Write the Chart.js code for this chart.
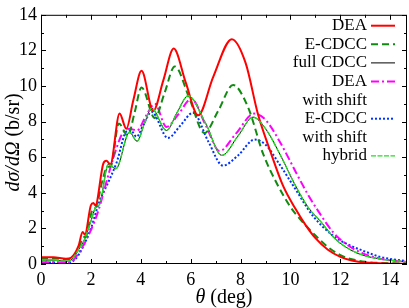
<!DOCTYPE html>
<html>
<head>
<meta charset="utf-8">
<script src="https://cdn.jsdelivr.net/npm/chart.js@4.4.0/dist/chart.umd.min.js"></script>
<style>
  html, body { margin: 0; padding: 0; background: #fff; }
</style>
</head>
<body>
<canvas id="xsec" width="409" height="308"></canvas>
<script>
// angles (deg) and cross sections (b/sr)
const deaTheta = [0, 0.5, 1.0, 1.2, 1.5, 1.67, 1.76, 2.0, 2.1, 2.18, 2.5, 2.62, 2.78, 3.15, 3.42, 3.7, 4.03, 4.5, 4.9, 5.32, 5.8, 6.3, 6.9, 7.65, 8.2, 8.7, 9.2, 9.7, 10.2, 10.6, 11.0, 11.5, 12.0, 12.5, 13.0, 14.0, 14.67];
const deaValue = [0.38, 0.38, 0.3, 0.35, 1.0, 1.8, 1.65, 3.3, 3.42, 3.3, 5.65, 5.8, 5.6, 8.45, 7.6, 9.2, 10.85, 8.6, 10.3, 12.1, 10.2, 8.35, 10.5, 12.63, 11.3, 8.4, 6.3, 4.4, 3.1, 2.2, 1.45, 0.8, 0.4, 0.18, 0.08, 0.02, 0.01];

const ecdccTheta = [0, 0.5, 1.0, 1.2, 1.5, 1.7, 1.8, 2.05, 2.2, 2.5, 2.65, 2.8, 3.12, 3.48, 3.75, 4.03, 4.56, 4.95, 5.36, 5.95, 6.55, 7.1, 7.7, 8.3, 8.9, 9.5, 10.0, 10.4, 11.0, 11.5, 12.0, 12.5, 13.0, 14.0, 14.67];
const ecdccValue = [0.32, 0.32, 0.25, 0.3, 0.85, 1.5, 1.55, 3.0, 3.2, 4.9, 5.45, 5.5, 7.9, 7.2, 8.5, 9.92, 8.2, 9.6, 11.1, 9.3, 7.36, 8.6, 10.05, 8.8, 6.2, 4.4, 3.2, 2.5, 1.6, 0.95, 0.5, 0.25, 0.12, 0.04, 0.03];

const cdccTheta = [0, 0.5, 1.0, 1.2, 1.5, 1.75, 2.0, 2.2, 2.35, 2.7, 3.0, 3.55, 3.85, 4.15, 4.43, 5.03, 5.45, 5.9, 6.6, 7.25, 7.9, 8.5, 9.0, 9.6, 10.2, 10.7, 11.2, 11.8, 12.4, 12.9, 13.6, 14.67];
const cdccValue = [0.22, 0.22, 0.15, 0.22, 0.8, 1.4, 2.4, 3.2, 3.35, 5.6, 5.35, 7.4, 6.9, 7.9, 8.75, 7.5, 8.5, 9.45, 7.9, 6.1, 7.2, 8.25, 7.6, 6.1, 4.4, 3.2, 2.4, 1.4, 0.8, 0.5, 0.28, 0.12];

const deaShiftTheta = [0, 0.5, 1.0, 1.2, 1.5, 2.0, 2.3, 2.76, 3.0, 3.25, 3.55, 3.85, 4.2, 4.56, 5.03, 5.5, 6.03, 6.6, 7.16, 7.8, 8.55, 9.0, 9.6, 10.2, 10.7, 11.1, 11.7, 12.3, 12.9, 13.6, 14.67];
const deaShiftValue = [0.1, 0.1, 0.08, 0.12, 0.6, 1.9, 3.0, 5.3, 6.4, 7.3, 7.6, 7.5, 8.3, 9.0, 7.7, 8.4, 9.28, 7.8, 6.35, 7.3, 8.45, 8.1, 6.8, 5.2, 3.9, 3.0, 1.8, 1.05, 0.6, 0.3, 0.12];

const ecdccShiftTheta = [0, 0.5, 1.0, 1.2, 1.5, 2.0, 2.36, 2.6, 3.03, 3.43, 3.6, 3.83, 4.13, 4.43, 5.09, 5.6, 6.09, 6.7, 7.29, 7.9, 8.56, 9.0, 9.56, 10.2, 10.9, 11.7, 12.3, 12.9, 13.6, 14.67];
const ecdccShiftValue = [0.08, 0.08, 0.06, 0.1, 0.5, 2.0, 3.6, 4.3, 5.7, 7.45, 7.5, 7.15, 7.9, 8.55, 7.08, 7.8, 8.5, 6.9, 5.53, 6.1, 6.99, 6.7, 5.6, 4.2, 2.7, 1.6, 1.1, 0.75, 0.4, 0.15];

// hybrid sits on top of full CDCC in the figure
const hybridTheta = cdccTheta;
const hybridValue = cdccValue;

const xTicks = [0, 2, 4, 6, 8, 10, 12, 14];
const yTicks = [0, 2, 4, 6, 8, 10, 12, 14];
const legendLines = [['DEA'], ['E-CDCC'], ['full CDCC'], ['DEA', 'with shift'], ['E-CDCC', 'with shift'], ['hybrid']];

const serif = '"Liberation Serif", "DejaVu Serif", serif';

function pts(t, v) {
  return t.map((a, i) => ({ x: a, y: v[i] }));
}

// inward ticks on all four sides, frame, legend and axis titles
const decor = {
  id: 'decor',
  afterDatasetsDraw(chart) {
    const ctx = chart.ctx;
    const a = chart.chartArea;
    const sx = chart.scales.x, sy = chart.scales.y;
    ctx.save();
    ctx.strokeStyle = '#000';
    ctx.lineWidth = 1;
    ctx.setLineDash([]);
    ctx.strokeRect(a.left + 0.5, a.top + 0.5, a.right - a.left - 1, a.bottom - a.top - 1);
    ctx.beginPath();
    for (let i = 0; i <= 14; i++) {
      const len = i % 2 === 0 ? 5 : 3;
      const px = Math.round(sx.getPixelForValue(i)) + 0.5;
      ctx.moveTo(px, a.bottom); ctx.lineTo(px, a.bottom - len);
      ctx.moveTo(px, a.top); ctx.lineTo(px, a.top + len);
      const py = Math.round(sy.getPixelForValue(i)) + 0.5;
      ctx.moveTo(a.left, py); ctx.lineTo(a.left + len, py);
      ctx.moveTo(a.right, py); ctx.lineTo(a.right - len, py);
    }
    ctx.stroke();

    // legend: text right aligned, line sample to its right
    ctx.font = '17px ' + serif;
    ctx.textAlign = 'right';
    ctx.textBaseline = 'middle';
    ctx.fillStyle = '#000';
    let row = 0;
    legendLines.forEach((lines, i) => {
      const ds = chart.data.datasets[i];
      const y = 25.7 + row * 18.6;
      ctx.strokeStyle = ds.borderColor;
      ctx.lineWidth = ds.borderWidth;
      ctx.setLineDash(ds.borderDash || []);
      ctx.beginPath();
      ctx.moveTo(371, y); ctx.lineTo(395, y);
      ctx.stroke();
      lines.forEach((txt, k) => {
        ctx.fillText(txt, 367, y + k * 18.6);
      });
      row += lines.length;
    });
    ctx.setLineDash([]);

    // x title
    ctx.textAlign = 'left';
    ctx.textBaseline = 'alphabetic';
    const xi = 'italic 20px ' + serif, xn = '20px ' + serif;
    ctx.font = xi; const w1 = ctx.measureText('θ').width;
    ctx.font = xn; const w2 = ctx.measureText(' (deg)').width;
    let x0 = (a.left + a.right) / 2 - (w1 + w2) / 2;
    ctx.font = xi; ctx.fillText('θ', x0, 303);
    ctx.font = xn; ctx.fillText(' (deg)', x0 + w1, 303);

    // y title
    ctx.translate(19, (a.top + a.bottom) / 2 + 3);
    ctx.rotate(-Math.PI / 2);
    const yi = 'italic 20px ' + serif, yn = '20px ' + serif;
    ctx.font = yi; const v1 = ctx.measureText('dσ/dΩ').width;
    ctx.font = yn; const v2 = ctx.measureText(' (b/sr)').width;
    x0 = -(v1 + v2) / 2;
    ctx.font = yi; ctx.fillText('dσ/dΩ', x0, 0);
    ctx.font = yn; ctx.fillText(' (b/sr)', x0 + v1, 0);
    ctx.restore();
  }
};

new Chart(document.getElementById('xsec'), {
  type: 'line',
  data: {
    datasets: [{
      label: 'DEA',
      data: pts(deaTheta, deaValue),
      borderColor: '#ff0000',
      borderWidth: 2,
      order: 2
    }, {
      label: 'E-CDCC',
      data: pts(ecdccTheta, ecdccValue),
      borderColor: '#108a10',
      borderWidth: 2,
      borderDash: [7, 4],
      order: 3
    }, {
      label: 'full CDCC',
      data: pts(cdccTheta, cdccValue),
      borderColor: '#000000',
      borderWidth: 1,
      order: 5
    }, {
      label: 'DEA with shift',
      data: pts(deaShiftTheta, deaShiftValue),
      borderColor: '#ff00ff',
      borderWidth: 2,
      borderDash: [8, 3, 2, 3],
      order: 4
    }, {
      label: 'E-CDCC with shift',
      data: pts(ecdccShiftTheta, ecdccShiftValue),
      borderColor: '#0033ff',
      borderWidth: 2,
      borderDash: [2, 2],
      order: 4
    }, {
      label: 'hybrid',
      data: pts(hybridTheta, hybridValue),
      borderColor: '#22dd22',
      borderWidth: 1.4,
      borderDash: [5, 1.5],
      order: 1
    }]
  },
  options: {
    responsive: false,
    animation: false,
    layout: { padding: { left: 0, right: 2, top: 9, bottom: 0 } },
    elements: {
      point: { radius: 0 },
      line: { cubicInterpolationMode: 'monotone', fill: false }
    },
    plugins: {
      legend: { display: false },
      tooltip: { enabled: false }
    },
    scales: {
      x: {
        type: 'linear',
        min: 0,
        max: 14.67,
        afterBuildTicks: s => { s.ticks = xTicks.map(v => ({ value: v })); },
        afterFit: s => { s.height = 44; },
        grid: { display: false, drawTicks: false },
        border: { display: false },
        ticks: { color: '#000', padding: 5, maxRotation: 0, font: { family: serif, size: 18 } }
      },
      y: {
        min: 0,
        max: 14,
        afterBuildTicks: s => { s.ticks = yTicks.map(v => ({ value: v })); },
        afterFit: s => { s.width = 41; },
        grid: { display: false, drawTicks: false },
        border: { display: false },
        ticks: { color: '#000', padding: 4, font: { family: serif, size: 18 } }
      }
    }
  },
  plugins: [decor]
});
</script>
</body>
</html>
